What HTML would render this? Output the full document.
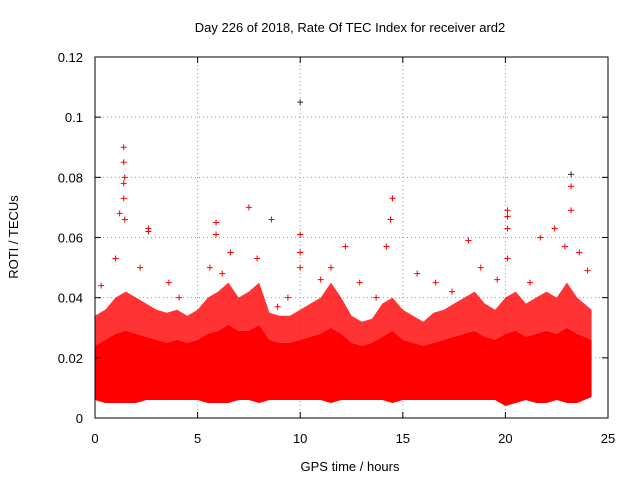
<!DOCTYPE html>
<html><head><meta charset="utf-8"><style>
html,body{margin:0;padding:0;background:#fff;}
svg{display:block;font-family:"Liberation Sans",sans-serif;}
</style></head><body>
<svg id="chart" width="640" height="480" viewBox="0 0 640 480" xmlns="http://www.w3.org/2000/svg">
<text x="350" y="32" font-size="13" text-anchor="middle" fill="#000">Day 226 of 2018, Rate Of TEC Index for receiver ard2</text>
<text x="350" y="471" font-size="13" text-anchor="middle" fill="#000">GPS time / hours</text>
<text x="18" y="237" font-size="13" text-anchor="middle" fill="#000" transform="rotate(-90 18 237)">ROTI / TECUs</text>
<g id="grid"></g><g id="band"></g><g id="pts"></g><g id="axes"></g>
</svg>
<script>
const xTicks=[0,5,10,15,20,25];
const yTicks=[0,0.02,0.04,0.06,0.08,0.1,0.12];
const yTickLabels=["0","0.02","0.04","0.06","0.08","0.1","0.12"];
const bandHours=[0,0.5,1,1.5,2,2.5,3,3.5,4,4.5,5,5.5,6,6.5,7,7.5,8,8.5,9,9.5,10,10.5,11,11.5,12,12.5,13,13.5,14,14.5,15,15.5,16,16.5,17,17.5,18,18.5,19,19.5,20,20.5,21,21.5,22,22.5,23,23.5,24.2];
const bandUpper=[0.034,0.036,0.04,0.042,0.04,0.038,0.036,0.035,0.036,0.034,0.036,0.04,0.042,0.045,0.04,0.042,0.045,0.035,0.034,0.034,0.036,0.038,0.04,0.045,0.04,0.034,0.032,0.033,0.038,0.04,0.036,0.034,0.032,0.035,0.036,0.038,0.04,0.042,0.038,0.036,0.04,0.042,0.038,0.04,0.042,0.04,0.045,0.04,0.036];
const bandCore=[0.024,0.026,0.028,0.029,0.028,0.027,0.026,0.025,0.026,0.025,0.026,0.028,0.029,0.031,0.029,0.029,0.031,0.026,0.025,0.025,0.026,0.027,0.028,0.03,0.028,0.025,0.024,0.025,0.027,0.029,0.026,0.025,0.024,0.025,0.026,0.027,0.028,0.029,0.027,0.026,0.028,0.029,0.027,0.028,0.029,0.028,0.03,0.028,0.026];
const bandLower=[0.006,0.005,0.005,0.005,0.005,0.006,0.006,0.006,0.006,0.006,0.006,0.005,0.005,0.005,0.006,0.006,0.005,0.006,0.006,0.006,0.006,0.006,0.006,0.005,0.006,0.006,0.006,0.006,0.006,0.005,0.006,0.006,0.006,0.006,0.006,0.006,0.006,0.006,0.006,0.006,0.004,0.005,0.006,0.005,0.005,0.006,0.005,0.005,0.007];
const outX=[1.4,1.4,1.45,1.4,1.4,1.45,1.2,2.6,2.6,5.9,5.9,7.5,8.6,10,10,10,10,14.5,14.4,14.2,15.7,18.2,20.1,20.1,20.1,20.1,21.7,22.4,23.2,23.2,23.2,23.6,12.2,12.9,18.8,22.9,6.6,7.9,11.5,3.6,4.1,16.6,1.0,2.2,5.6,8.9,9.4,0.3,13.7,17.4,19.6,21.2,24.0,6.2,11.0];
const outY=[0.09,0.085,0.08,0.078,0.073,0.066,0.068,0.062,0.063,0.065,0.061,0.07,0.066,0.105,0.061,0.055,0.05,0.073,0.066,0.057,0.048,0.059,0.069,0.067,0.063,0.053,0.06,0.063,0.081,0.077,0.069,0.055,0.057,0.045,0.05,0.057,0.055,0.053,0.05,0.045,0.04,0.045,0.053,0.05,0.05,0.037,0.04,0.044,0.04,0.042,0.046,0.045,0.049,0.048,0.046];
const outBlack=[0,0,0,0,0,0,0,0,0,0,0,0,0,1,0,0,0,0,0,0,0,0,0,0,0,0,0,0,1,0,0,0,0,0,0,0,0,0,0,0,0,0,0,0,0,0,0,0,0,0,0,0,0,0,0];
const X0=95,X1=608,Y0=418,Y1=57;
const sx=v=>X0+(v-0)/(25-0)*(X1-X0);
const sy=v=>Y0-(v-0)/(0.12-0)*(Y0-Y1);
const NS="http://www.w3.org/2000/svg";
function mk(tag,parent,attrs){const e=document.createElementNS(NS,tag);for(const k in attrs)e.setAttribute(k,attrs[k]);parent.appendChild(e);return e;}
const grid=document.getElementById('grid'),axes=document.getElementById('axes'),band=document.getElementById('band'),pts=document.getElementById('pts');
xTicks.forEach((t,i)=>{const x=sx(t);
 if(i>0&&i<xTicks.length-1){const g=mk('line',grid,{x1:x,x2:x,y1:Y1,y2:Y0,stroke:'#999','stroke-dasharray':'1,3','stroke-width':1});
 
 }
 mk('line',axes,{x1:x,x2:x,y1:Y0,y2:Y0-6,stroke:'#000'});mk('line',axes,{x1:x,x2:x,y1:Y1,y2:Y1+6,stroke:'#000'});
 const l=mk('text',axes,{x:x,y:443,'font-size':13,'text-anchor':'middle'});l.textContent=t;
 
 });
yTicks.forEach((t,i)=>{const y=sy(t);
 if(i>0&&i<yTicks.length-1){const g=mk('line',grid,{x1:X0,x2:X1,y1:y,y2:y,stroke:'#999','stroke-dasharray':'1,3','stroke-width':1});
 
 }
 mk('line',axes,{x1:X0,x2:X0+6,y1:y,y2:y,stroke:'#000'});mk('line',axes,{x1:X1,x2:X1-6,y1:y,y2:y,stroke:'#000'});
 const l=mk('text',axes,{x:X0-12,y:y+5,'font-size':13,'text-anchor':'end'});l.textContent=yTickLabels[i];
 
 });
const frame=mk('rect',axes,{x:X0,y:Y1,width:X1-X0,height:Y0-Y1,fill:'none',stroke:'#000'});


function poly(top,bot){let p=bandHours.map((h,i)=>sx(h)+','+sy(top[i]));for(let i=bandHours.length-1;i>=0;i--)p.push(sx(bandHours[i])+','+sy(bot[i]));return p.join(' ');}
const outer=mk('polygon',band,{points:poly(bandUpper,bandCore),fill:'#f00','fill-opacity':0.8});


const core=mk('polygon',band,{points:poly(bandCore,bandLower),fill:'#f00'});


outX.forEach((h,i)=>{const x=sx(h),y=sy(outY[i]);
 const c=mk('path',pts,{d:`M${x-3},${y}H${x+3}M${x},${y-3}V${y+3}`,stroke:outBlack[i]?'#333':'#f00','stroke-width':1});
 
 });
</script>
</body></html>
